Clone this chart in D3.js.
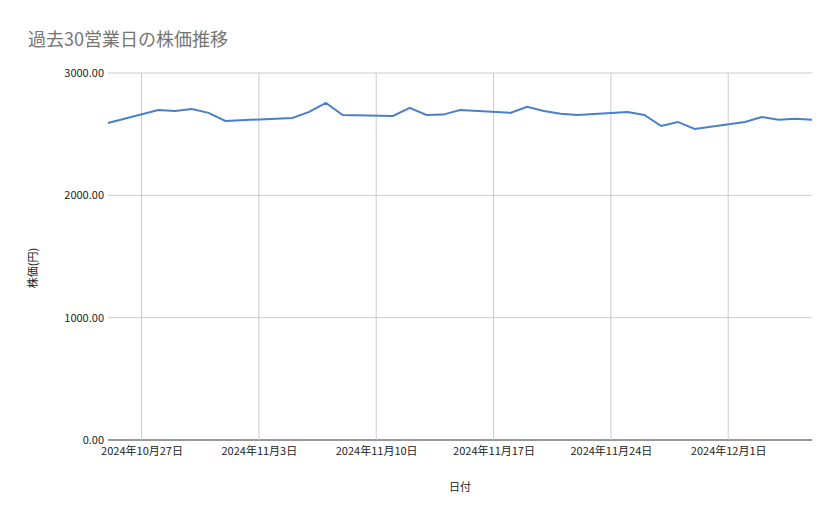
<!DOCTYPE html>
<html><head><meta charset="utf-8">
<script src="https://cdn.jsdelivr.net/npm/d3@7"></script>
<style>body{margin:0;background:#fff}text{font-family:"Noto Sans CJK JP","Noto Sans",sans-serif}</style>
</head><body>
<svg id="mainsvg" width="839" height="519"></svg>
<script>
const dates = ['2024-10-25','2024-10-28','2024-10-29','2024-10-30','2024-10-31','2024-11-01',
  '2024-11-05','2024-11-06','2024-11-07','2024-11-08','2024-11-11','2024-11-12','2024-11-13',
  '2024-11-14','2024-11-15','2024-11-18','2024-11-19','2024-11-20','2024-11-21','2024-11-22',
  '2024-11-25','2024-11-26','2024-11-27','2024-11-28','2024-11-29','2024-12-02','2024-12-03',
  '2024-12-04','2024-12-05','2024-12-06'];
const prices = [2592,2698,2690,2706,2674,2608,2633,2682,2755,2657,2649,2715,2657,2660,2698,
  2674,2723,2690,2666,2657,2682,2657,2567,2600,2543,2600,2641,2617,2625,2617];
const yTicks = [0,1000,2000,3000];

const parse = d3.timeParse('%Y-%m-%d');
const svg = d3.select('#mainsvg'),
  margin = { top: 73, right: 27, bottom: 79, left: 108 },
  innerWidth = 839 - margin.left - margin.right,
  innerHeight = 519 - margin.top - margin.bottom;
const g = svg.append('g').attr('transform', `translate(${margin.left},${margin.top})`);

const data = dates.map((d, i) => ({ date: parse(d), value: prices[i] }));
const x = d3.scaleTime().domain([data[0].date, data[data.length - 1].date]).range([0, innerWidth]);
const y = d3.scaleLinear().domain([0, 3000]).range([innerHeight, 0]);

const xTicks = d3.timeDay.every(7).range(parse('2024-10-27'), parse('2024-12-07'));
xTicks.length = 0;
for (let t = parse('2024-10-27'); t <= data[data.length - 1].date; t = d3.timeDay.offset(t, 7)) xTicks.push(t);

// grid
g.selectAll('.hg').data(yTicks).join('line')
  .attr('x1', 0).attr('x2', innerWidth).attr('y1', d => y(d)).attr('y2', d => y(d))
  .attr('stroke', d => d === 0 ? '#333' : '#ccc');
g.selectAll('.vg').data(xTicks).join('line')
  .attr('x1', d => x(d)).attr('x2', d => x(d)).attr('y1', 0).attr('y2', innerHeight)
  .attr('stroke', '#ccc');

const yAxis = d3.axisLeft(y).tickValues(yTicks).tickSize(0).tickPadding(4).tickFormat(d3.format('.2f'));
g.append('g').call(yAxis).call(a => a.select('.domain').remove())
  .selectAll('text').attr('font-size', 11).attr('fill', '#222');

const fmt = d => `${d.getFullYear()}年${d.getMonth() + 1}月${d.getDate()}日`;
const xAxis = d3.axisBottom(x).tickValues(xTicks).tickSize(0).tickPadding(7).tickFormat(fmt);
g.append('g').attr('transform', `translate(0,${innerHeight})`).call(xAxis)
  .call(a => a.select('.domain').remove())
  .selectAll('text').attr('font-size', 11).attr('fill', '#222');

g.append('path').datum(data)
  .attr('d', d3.line().x(d => x(d.date)).y(d => y(d.value)))
  .attr('fill', 'none').attr('stroke', '#4a7fc9').attr('stroke-width', 2);

svg.append('text').text('過去30営業日の株価推移').attr('x', 28).attr('y', 46)
  .attr('font-size', 18).attr('fill', '#757575');
svg.append('text').text('日付').attr('x', 460).attr('y', 491).attr('text-anchor', 'middle')
  .attr('font-size', 11).attr('fill', '#222');
svg.append('text').text('株価(円)').attr('transform', 'translate(37,268) rotate(-90)')
  .attr('text-anchor', 'middle').attr('font-size', 11).attr('fill', '#222');
</script>
</body></html>
